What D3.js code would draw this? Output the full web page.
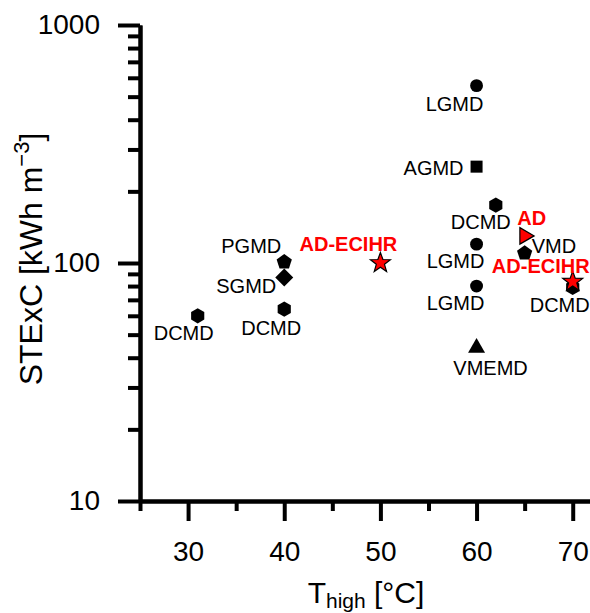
<!DOCTYPE html>
<html>
<head>
<meta charset="utf-8">
<script src="https://cdn.jsdelivr.net/npm/d3@7"></script>
<style>
  html, body { margin: 0; padding: 0; background: #fff; }
  svg { display: block; }
</style>
</head>
<body>
<svg id="chart" width="590" height="613"></svg>
<script>
// STExC vs hot-side temperature, log y axis, one marker per technology.

const labels = ["DCMD", "PGMD", "SGMD", "DCMD", "AD-ECIHR", "LGMD", "AGMD", "DCMD",
                "LGMD", "LGMD", "VMEMD", "VMD", "AD", "DCMD", "AD-ECIHR"];
const tHigh  = [31, 40, 40, 40, 50, 60, 60, 62, 60, 60, 60, 65, 65, 70, 70];
const stexc  = [60, 101, 87, 64, 100, 556, 254, 175, 120, 80, 44, 110, 130, 79, 83.5];
const shapes = ["hexagon", "pentagon", "diamond", "hexagon", "star", "circle", "square", "hexagon",
                "circle", "circle", "triangle", "pentagon", "triangleRight", "hexagon", "star"];
const isOurs = [false, false, false, false, true, false, false, false,
                false, false, false, false, true, false, true];

const xTicks = [30, 40, 50, 60, 70];
const xMinor = [25, 35, 45, 55, 65];
const yTicks = [10, 100, 1000];
const yMinor = [20, 30, 40, 50, 60, 70, 80, 90, 200, 300, 400, 500, 600, 700, 800, 900];

// label placement relative to its marker: [dx, dy, anchor]
const labelPos = [
  [-14, 24, "middle"], [-3, -9, "end"], [-8, 16, "end"], [-13, 26, "middle"],
  [-32, -12, "middle"], [-22, 25, "middle"], [-13, 8, "end"], [-15, 24, "middle"],
  [-21, 24, "middle"], [-21, 24, "middle"], [14, 27, "middle"], [7, 0, "start"],
  [7, -11, "middle"], [-13, 25, "middle"], [-32, -9, "middle"]
];

const points = labels.map((l, i) => ({
  label: l, t: tHigh[i], v: stexc[i], shape: shapes[i], ours: isOurs[i], pos: labelPos[i]
}));

const svg = d3.select("#chart");
const font = "'Liberation Sans', Arial, sans-serif";
const margin = { left: 140, top: 25, bottom: 501 };

const x = d3.scaleLinear().domain([25, 72]).range([140, 140 + 47 * 9.616]);
const y = d3.scaleLog().domain([10, 1000]).range([501, 25]);

function polygon(n, r, rot) {
  const pts = d3.range(n).map(k => {
    const a = rot + k * 2 * Math.PI / n;
    return [r * Math.sin(a), -r * Math.cos(a)];
  });
  return "M" + pts.map(p => p.join(",")).join("L") + "Z";
}
function star(ro, ri) {
  const pts = d3.range(10).map(k => {
    const r = k % 2 ? ri : ro;
    const a = k * Math.PI / 5;
    return [r * Math.sin(a), -r * Math.cos(a)];
  });
  return "M" + pts.map(p => p.join(",")).join("L") + "Z";
}
const shapePath = {
  circle: d3.symbol(d3.symbolCircle, 130)(),
  square: polygon(4, 8.5, Math.PI / 4),
  diamond: polygon(4, 9, 0),
  hexagon: polygon(6, 7.6, 0),
  pentagon: polygon(5, 8, 0),
  triangle: polygon(3, 9.8, 0),
  triangleRight: polygon(3, 9.5, Math.PI / 2),
  star: star(10.5, 4.3)
};

// axes
const axisStyle = g => {
  g.selectAll("path, line").attr("stroke", "#000").attr("stroke-width", 4);
  g.selectAll("text").attr("font-family", font).attr("font-size", 28).attr("fill", "#000");
};

svg.append("g")
  .attr("transform", `translate(0,${margin.bottom})`)
  .call(d3.axisBottom(x).tickValues(xMinor).tickSize(10).tickSizeOuter(0).tickFormat(""))
  .call(axisStyle);
svg.append("g")
  .attr("transform", `translate(0,${margin.bottom})`)
  .call(d3.axisBottom(x).tickValues(xTicks).tickSize(20).tickSizeOuter(0).tickPadding(20))
  .call(axisStyle);

svg.append("g")
  .attr("transform", `translate(${margin.left},0)`)
  .call(d3.axisLeft(y).tickValues(yMinor).tickSize(12).tickSizeOuter(0).tickFormat(""))
  .call(axisStyle);
svg.append("g")
  .attr("transform", `translate(${margin.left},0)`)
  .call(d3.axisLeft(y).tickValues(yTicks).tickSize(22).tickSizeOuter(0).tickPadding(18)
    .tickFormat(d3.format("d")))
  .call(axisStyle);

// axis titles
const xt = svg.append("text")
  .attr("x", 366).attr("y", 603)
  .attr("text-anchor", "middle")
  .attr("font-family", font).attr("font-size", 30);
xt.append("tspan").text("T");
xt.append("tspan").attr("font-size", 21).attr("dy", 5).text("high");
xt.append("tspan").attr("dy", -5).text(" [°C]");

const yt = svg.append("text")
  .attr("transform", "translate(42,259) rotate(-90)")
  .attr("text-anchor", "middle")
  .attr("font-family", font).attr("font-size", 32);
yt.append("tspan").text("STExC [kWh m");
yt.append("tspan").attr("font-size", 22).attr("dy", -13).text("−3");
yt.append("tspan").attr("dy", 13).text("]");

// markers
svg.append("g")
  .selectAll("path")
  .data(points)
  .join("path")
  .attr("transform", d => `translate(${x(d.t)},${y(d.v)})`)
  .attr("d", d => shapePath[d.shape])
  .attr("fill", d => d.ours ? "#ff0000" : "#000")
  .attr("stroke", "#000")
  .attr("stroke-width", d => d.ours ? 1.2 : 0);

// labels
svg.append("g")
  .selectAll("text")
  .data(points)
  .join("text")
  .attr("x", d => x(d.t) + d.pos[0])
  .attr("y", d => y(d.v) + d.pos[1])
  .attr("text-anchor", d => d.pos[2])
  .attr("font-family", font)
  .attr("font-size", 20)
  .attr("font-weight", d => d.ours ? "bold" : "normal")
  .attr("fill", d => d.ours ? "#ff0000" : "#000")
  .text(d => d.label);
</script>
</body>
</html>
